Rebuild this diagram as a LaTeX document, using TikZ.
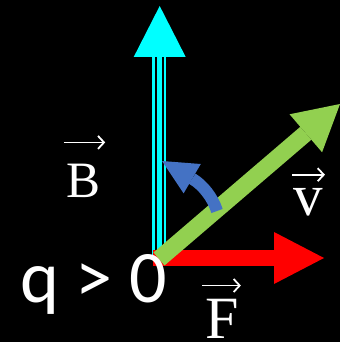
\documentclass[tikz,border=0pt]{standalone}
\usepackage{fontspec}
\setmainfont{Liberation Serif}
\newfontfamily\chargefont{Carlito}
\usepackage{xcolor}
\definecolor{lfcyan}{RGB}{0,255,255}
\definecolor{lfred}{RGB}{255,0,0}
\definecolor{lfgreen}{RGB}{146,208,80}
\definecolor{lfblue}{RGB}{68,114,196}
\usetikzlibrary{arrows.meta}

\begin{document}
\begin{tikzpicture}[x=1pt, y=-1pt,
    fat/.style={line width=#1, line cap=butt},
    lbl/.style={text=white, inner sep=0pt, anchor=base},
    vecbar/.style={white, line width=1.8pt, -{Straight Barb[length=6pt, width=13pt]}}
]
\path[use as bounding box, fill=black] (0,0) rectangle (340,342);

% === Campo B: linea triple ===
\coordinate (Bo) at (159.7,258);
\coordinate (Bh) at (159.7,57);
\coordinate (Bt) at (159.7,6);
\draw[fat=5pt, lfcyan, -{Triangle[length=51pt, width=52pt, line width=0pt]}] (Bo) -- (Bt);
\draw[fat=3pt, lfcyan] ([xshift=-6.7pt]Bo) -- ([xshift=-6.7pt]Bh);
\draw[fat=2pt, lfcyan] ([xshift=5.6pt]Bo) -- ([xshift=5.6pt]Bh);

% === Fuerza F ===
\coordinate (Fo) at (153,258);
\coordinate (Ft) at (324,258);
\draw[fat=16pt, lfred, -{Triangle[length=50pt, width=52pt, line width=0pt]}] (Fo) -- (Ft);

% === Velocidad v ===
\coordinate (vo) at (159,259);
\coordinate (vt) at (340,104);
\draw[fat=17pt, lfgreen, -{Triangle[length=45pt, width=50pt, line width=0pt]}] (vo) -- (vt);

% === Giro de v hacia B ===
\coordinate (wo) at (217,211);
\coordinate (wt) at (162,161);
\draw[fat=12pt, lfblue, -{Triangle[length=35pt, width=34pt, line width=0pt]}]
    (wo) .. controls (213,198) and (203,185) .. (wt);

% === Etiquetas ===
\node[lbl, font=\fontsize{51}{61}\selectfont] (Blbl) at (84,197) {B};
\node[lbl, font=\fontsize{60}{72}\selectfont] (Flbl) at (222,338) {F};
\node[lbl, font=\fontsize{59}{70}\selectfont] (vlbl) at (308,215) {v};
\node[lbl, anchor=base west, font=\chargefont\fontsize{74}{88}\selectfont] (charge) at (20,302) {q > 0};

% flechas de vector sobre las letras
\draw[vecbar] ([xshift=-3pt, yshift=21pt]Blbl.north west) -- ([xshift=4pt, yshift=21pt]Blbl.north east);
\draw[vecbar] ([xshift=-3pt, yshift=13pt]Flbl.north west) -- ([xshift=2pt, yshift=13pt]Flbl.north east);
\draw[vecbar] ([xshift=-1pt, yshift=13pt]vlbl.north west) -- ([xshift=2pt, yshift=13pt]vlbl.north east);
\end{tikzpicture}
\end{document}
